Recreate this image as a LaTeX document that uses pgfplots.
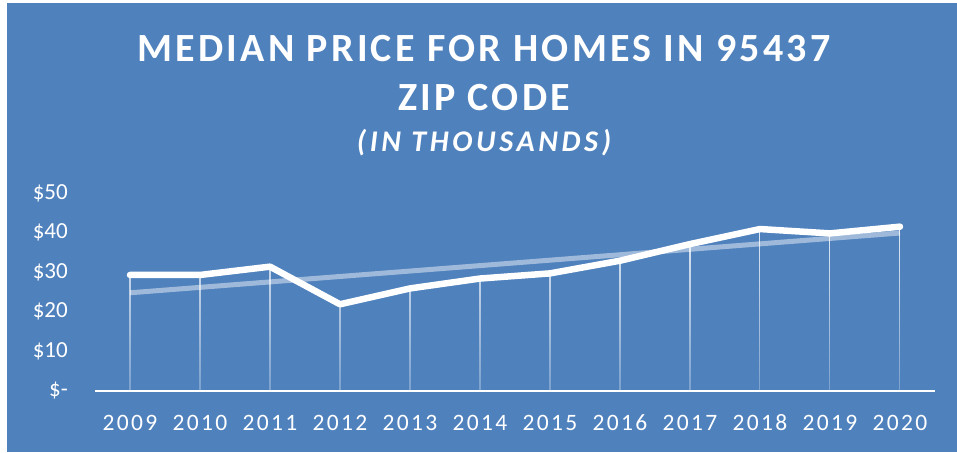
\documentclass[border=0pt]{standalone}
\usepackage{pgfplots}
\pgfplotsset{compat=1.18}
\usetikzlibrary{fadings}
\usepackage{fontspec}
\setmainfont{Carlito}
\definecolor{bgblue}{HTML}{4F81BD}
\tikzfading[name=dropfade, top color=transparent!15, bottom color=transparent!75]
\begin{document}
\begin{tikzpicture}[x=1pt,y=1pt]
\fill[white] (0,0) rectangle (957,452);
\fill[bgblue] (7,0) rectangle (957,449);
\node[anchor=base,text=white,inner sep=0pt,font=\fontsize{40}{42}\selectfont\bfseries\addfontfeature{LetterSpace=8}] at (484,390) {MEDIAN PRICE FOR HOMES IN 95437};
\node[anchor=base,text=white,inner sep=0pt,font=\fontsize{40}{42}\selectfont\bfseries\addfontfeature{LetterSpace=8}] at (484,341) {ZIP CODE};
\node[anchor=base,text=white,inner sep=0pt,font=\fontsize{30}{32}\selectfont\bfseries\itshape\addfontfeature{LetterSpace=12}] at (484,300) {(IN THOUSANDS)};
\begin{axis}[
  at={(95pt,61pt)}, anchor=south west,
  scale only axis, width=840pt, height=198pt,
  xmin=-0.5, xmax=11.5, ymin=0, ymax=50,
  clip=false,
  axis lines*=left,
  x axis line style={white, line width=1.5pt, -},
  y axis line style={draw=none},
  xtick={0,...,11},
  xticklabels={2009,2010,2011,2012,2013,2014,2015,2016,2017,2018,2019,2020},
  major tick length=0pt,
  xticklabel style={text=white, font=\fontsize{23.5}{25}\selectfont\addfontfeature{LetterSpace=10}, inner sep=0pt, anchor=base, yshift=-39pt},
  ytick={0,10,20,30,40,50},
  yticklabels={\$-\hspace{10pt},\$10,\$20,\$30,\$40,\$50},
  yticklabel style={text=white, font=\fontsize{23}{25}\selectfont, inner sep=0pt, anchor=east, xshift=-27pt},
  /pgf/number format/assume math mode=true,
]
\addplot[ycomb, white, line width=1.3pt, no markers, path fading=dropfade] coordinates {
(0,29.3) (1,29.3) (2,31.4) (3,21.9) (4,25.9) (5,28.4) (6,29.7) (7,32.9) (8,37.1) (9,40.9) (10,39.8) (11,41.5)};
\addplot[white, opacity=0.45, line width=5pt, no markers] coordinates {(0,24.8) (11,39.9)};
\addplot[white, line width=6.5pt, line join=round, line cap=round, no markers] coordinates {
(0,29.3) (1,29.3) (2,31.4) (3,21.9) (4,25.9) (5,28.4) (6,29.7) (7,32.9) (8,37.1) (9,40.9) (10,39.8) (11,41.5)};
\end{axis}
\end{tikzpicture}
\end{document}
